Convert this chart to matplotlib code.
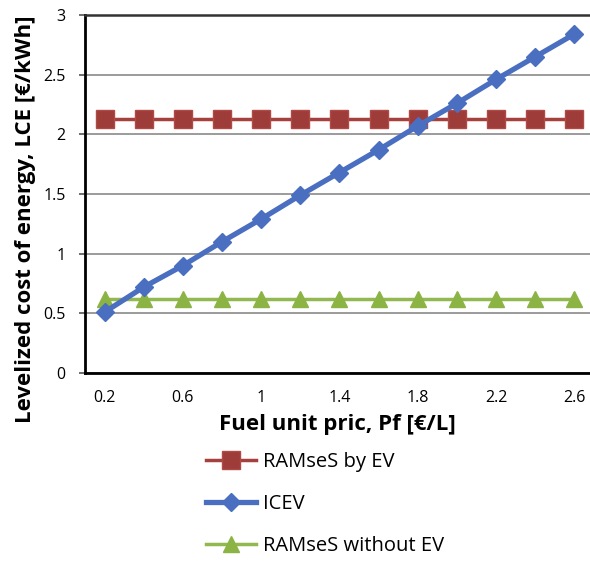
import matplotlib.pyplot as plt

# fuel price categories and LCE series
fuel_price = [0.2, 0.4, 0.6, 0.8, 1.0, 1.2, 1.4, 1.6, 1.8, 2.0, 2.2, 2.4, 2.6]
ramses_ev = [2.13] * 13
icev = [0.51, 0.72, 0.90, 1.10, 1.29, 1.49, 1.68, 1.87, 2.07, 2.26, 2.46, 2.65, 2.84]
ramses_no_ev = [0.62] * 13

x_ticks = [0.2, 0.6, 1.0, 1.4, 1.8, 2.2, 2.6]
x_labels = ["0.2", "0.6", "1", "1.4", "1.8", "2.2", "2.6"]
y_ticks = [0, 0.5, 1, 1.5, 2, 2.5, 3]
y_labels = ["0", "0.5", "1", "1.5", "2", "2.5", "3"]

plt.rcParams["font.family"] = ["Open Sans", "DejaVu Sans"]

fig = plt.figure(figsize=(5.9, 5.62), dpi=100)
ax = fig.add_axes([0.144, 0.3363, 0.856, 0.637])

ax.plot(fuel_price, ramses_ev, color="#A5403D", lw=2.5, marker="s",
        markersize=12.5, markerfacecolor="#9E3C3A", markeredgecolor="#B04A46",
        label="RAMseS by EV", zorder=3)
ax.plot(fuel_price, icev, color="#4A6FC0", lw=3.8, marker="D",
        markersize=9.5, markerfacecolor="#4A6FC0", markeredgecolor="#4A6FC0",
        label="ICEV", zorder=4)
ax.plot(fuel_price, ramses_no_ev, color="#92B94F", lw=2.5, marker="^",
        markersize=12, markerfacecolor="#8CB445", markeredgecolor="#8CB445",
        label="RAMseS without EV", zorder=3)

ax.set_xlim(0.1, 2.68)
ax.set_ylim(0, 3)
ax.set_xticks(x_ticks)
ax.set_xticklabels(x_labels, fontsize=11.5)
ax.set_yticks(y_ticks)
ax.set_yticklabels(y_labels, fontsize=11.5)
ax.tick_params(axis="x", length=0, pad=12)
ax.tick_params(axis="y", length=4, width=1.2, color="#555555", pad=10)

ax.grid(axis="y", color="#8a8a8a", lw=1.2)
ax.set_axisbelow(True)
ax.spines["top"].set_color("#333333")
ax.spines["top"].set_linewidth(1.8)
ax.spines["right"].set_visible(False)
ax.spines["left"].set_linewidth(2)
ax.spines["bottom"].set_linewidth(2)

ax.set_xlabel("Fuel unit pric, Pf [€/L]", fontsize=16, fontweight="bold", labelpad=6)
ax.set_ylabel("Levelized cost of energy, LCE [€/kWh]", fontsize=16,
              fontweight="bold")
ax.yaxis.set_label_coords(-0.097, 0.43)

fig.legend(loc="upper left", bbox_to_anchor=(196 / 590, 1 - 442 / 562),
           frameon=False, borderpad=0, fontsize=14.5, labelspacing=1.1,
           handlelength=2.5, handletextpad=0.35)

plt.savefig("out.png", dpi=100)
